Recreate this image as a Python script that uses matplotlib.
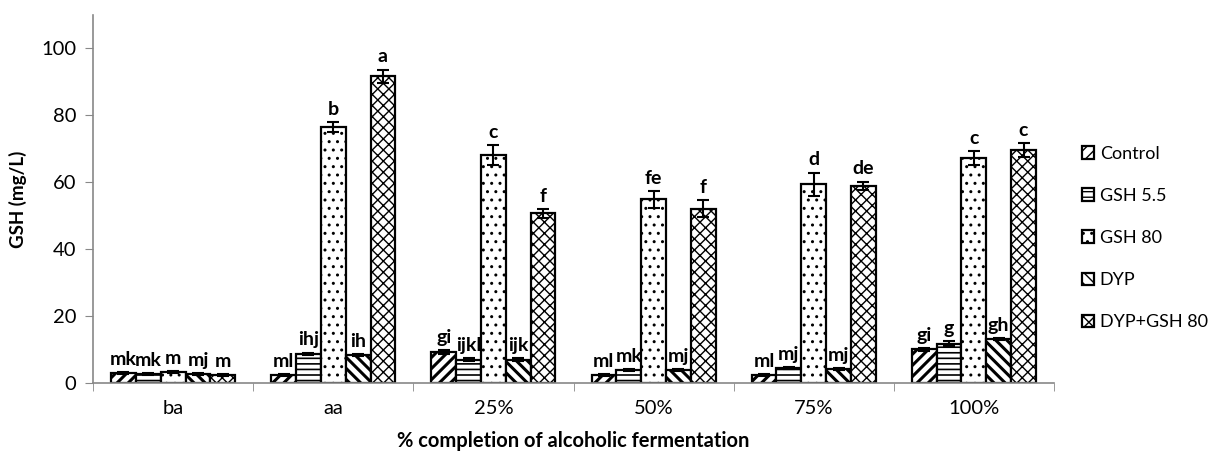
import numpy as np
import matplotlib
matplotlib.use("Agg")
import matplotlib.pyplot as plt
from matplotlib.ticker import FixedLocator

plt.rcParams['font.family'] = ['Lato', 'DejaVu Sans']

# --- data ---
stages = ['ba', 'aa', '25%', '50%', '75%', '100%']
treatments = ['Control', 'GSH 5.5', 'GSH 80', 'DYP', 'DYP+GSH 80']

control = [3.0, 2.5, 9.2, 2.3, 2.3, 10.1]
gsh55 = [2.7, 8.7, 7.0, 4.0, 4.4, 11.8]
gsh80 = [3.2, 76.4, 68.1, 54.9, 59.4, 67.3]
dyp = [2.8, 8.4, 7.0, 3.8, 4.3, 13.1]
dyp_gsh80 = [2.5, 91.7, 50.7, 52.1, 58.9, 69.7]

control_err = [0.3, 0.3, 0.6, 0.3, 0.3, 0.4]
gsh55_err = [0.3, 0.4, 0.5, 0.3, 0.3, 0.7]
gsh80_err = [0.3, 1.5, 3.0, 2.5, 3.5, 2.0]
dyp_err = [0.3, 0.3, 0.5, 0.3, 0.3, 0.3]
dyp_gsh80_err = [0.3, 2.0, 1.3, 2.5, 1.3, 2.0]

control_lbl = ['mk', 'ml', 'gi', 'ml', 'ml', 'gi']
gsh55_lbl = ['mk', 'ihj', 'ijkl', 'mk', 'mj', 'g']
gsh80_lbl = ['m', 'b', 'c', 'fe', 'd', 'c']
dyp_lbl = ['mj', 'ih', 'ijk', 'mj', 'mj', 'gh']
dyp_gsh80_lbl = ['m', 'a', 'f', 'f', 'de', 'c']

series = [control, gsh55, gsh80, dyp, dyp_gsh80]
errors = [control_err, gsh55_err, gsh80_err, dyp_err, dyp_gsh80_err]
labels = [control_lbl, gsh55_lbl, gsh80_lbl, dyp_lbl, dyp_gsh80_lbl]
hatches = ['///', '---', '..', '\\\\\\', 'xxx']
hatch_lw = [2.2, 1.2, 1.0, 2.2, 1.0]

fig = plt.figure(figsize=(12.21, 4.55), dpi=100)
ax = fig.add_axes([0.0762, 0.158, 0.787, 0.809])

x = np.arange(len(stages))
width = 0.155
for i, (vals, errs, lbls) in enumerate(zip(series, errors, labels)):
    pos = x + (i - 2) * width
    plt.rcParams['hatch.linewidth'] = hatch_lw[i]
    ax.bar(pos, vals, width, color='white', edgecolor='black', linewidth=1.6,
           hatch=hatches[i], label=treatments[i], zorder=2)
    ax.errorbar(pos, vals, yerr=errs, fmt='none', ecolor='black',
                elinewidth=1.5, capsize=4, capthick=1.5, zorder=3)
    for p, v, e, t in zip(pos, vals, errs, lbls):
        ax.annotate(t, (p, v + e), xytext=(0, 3), textcoords='offset points',
                    ha='center', va='bottom', fontsize=14, fontweight='bold')

ax.set_xlim(-0.5, len(stages) - 0.5)
ax.set_ylim(0, 110)
ax.set_yticks([0, 20, 40, 60, 80, 100])
ax.set_xticks(x)
ax.set_xticklabels(stages)
ax.xaxis.set_minor_locator(FixedLocator(np.arange(len(stages) + 1) - 0.5))
ax.tick_params(axis='x', which='major', length=0, labelsize=14.5, pad=12)
ax.tick_params(axis='x', which='minor', length=6, color='#888888')
ax.tick_params(axis='y', length=6, color='#888888', labelsize=14.5, pad=6)

for s in ['top', 'right']:
    ax.spines[s].set_visible(False)
for s in ['left', 'bottom']:
    ax.spines[s].set_color('#888888')
    ax.spines[s].set_linewidth(1.2)

ax.set_ylabel('GSH (mg/L)', fontsize=13.5, fontweight='bold', labelpad=10)
ax.set_xlabel('% completion of alcoholic fermentation', fontsize=14.5,
              fontweight='bold', labelpad=10)

leg = ax.legend(loc='center left', bbox_to_anchor=(1.012, 0.394), frameon=False,
                fontsize=13, handlelength=0.7, handleheight=0.7,
                handletextpad=0.3, labelspacing=1.45)

fig.savefig('out.png', dpi=100)
